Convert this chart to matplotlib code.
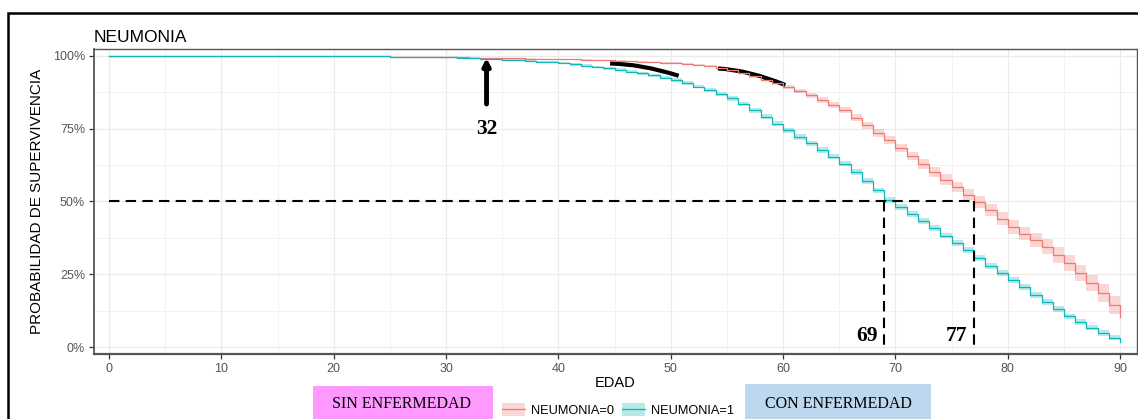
'''
Curvas de supervivencia por edad - NEUMONIA
'''

import numpy as np
import matplotlib
matplotlib.use('Agg')
import matplotlib.pyplot as plt
from matplotlib.patches import Rectangle, Patch, PathPatch
from matplotlib.lines import Line2D
from matplotlib.path import Path

# ═══ Data ═════════════════════════════════════════════════════════════════

edad = np.arange(0, 91)

# NEUMONIA=0 (survival %, one value per year)
surv0 = [
  100.0, 100.0, 100.0, 100.0, 100.0, 100.0, 100.0, 100.0, 100.0, 100.0,
  100.0, 100.0, 100.0, 100.0, 100.0, 100.0, 100.0, 100.0, 100.0, 99.95,
  99.95, 99.9, 99.9, 99.85, 99.85, 99.8, 99.75, 99.7, 99.65, 99.6,
  99.55, 99.5, 99.45, 99.4, 99.3, 99.25, 99.2, 99.1, 99.0, 98.95,
  98.9, 98.8, 98.7, 98.55, 98.45, 98.3, 98.15, 98.0, 97.85, 97.7,
  97.5, 97.2, 96.9, 96.5, 95.9, 95.2, 94.2, 93.1, 91.9, 90.7,
  89.4, 88.0, 86.5, 84.9, 83.2, 81.4, 78.8, 76.2, 73.5, 71.0,
  68.4, 65.6, 62.9, 60.1, 57.5, 55.0, 52.4, 49.8, 47.0, 44.1,
  41.2, 39.0, 36.7, 34.4, 31.6, 28.9, 25.5, 22.0, 18.6, 14.5, 10.3,
]

# NEUMONIA=1
surv1 = [
  100.0, 100.0, 100.0, 100.0, 100.0, 100.0, 100.0, 100.0, 100.0, 100.0,
  100.0, 100.0, 100.0, 100.0, 100.0, 100.0, 100.0, 100.0, 100.0, 99.95,
  99.95, 99.9, 99.9, 99.9, 99.85, 99.8, 99.8, 99.75, 99.7, 99.6,
  99.5, 99.35, 99.2, 99.05, 98.9, 98.75, 98.55, 98.35, 98.1, 97.8,
  97.5, 97.1, 96.7, 96.2, 95.7, 95.2, 94.6, 94.0, 93.3, 92.6,
  91.8, 90.7, 89.5, 88.3, 86.9, 85.4, 83.4, 81.3, 79.1, 76.8,
  74.4, 72.2, 70.0, 67.7, 65.4, 63.0, 60.2, 57.0, 53.8, 50.4,
  48.0, 45.6, 43.2, 40.8, 38.3, 35.8, 33.3, 30.6, 27.8, 25.4,
  23.0, 20.5, 18.0, 15.5, 13.0, 10.5, 8.6, 6.7, 4.8, 3.2, 1.7,
]

# Confidence band half widths (%)
hw0 = [
  0.0, 0.0, 0.0, 0.0, 0.0, 0.0, 0.0, 0.0, 0.0, 0.0,
  0.0, 0.0, 0.0, 0.0, 0.0, 0.0, 0.0, 0.0, 0.0, 0.0,
  0.0, 0.0, 0.0, 0.0, 0.0, 0.0, 0.0, 0.0, 0.0, 0.0,
  0.05, 0.05, 0.05, 0.05, 0.1, 0.1, 0.1, 0.1, 0.1, 0.1,
  0.15, 0.15, 0.15, 0.2, 0.2, 0.2, 0.2, 0.25, 0.25, 0.25,
  0.3, 0.3, 0.35, 0.35, 0.4, 0.4, 0.45, 0.5, 0.55, 0.6,
  0.7, 0.75, 0.8, 0.9, 0.95, 1.0, 1.1, 1.2, 1.3, 1.4,
  1.45, 1.5, 1.6, 1.7, 1.8, 1.85, 1.95, 2.05, 2.1, 2.2,
  2.3, 2.35, 2.45, 2.55, 2.65, 2.7, 2.8, 2.9, 3.0, 3.1, 3.2,
]

hw1 = [
  0.0, 0.0, 0.0, 0.0, 0.0, 0.0, 0.0, 0.0, 0.0, 0.0,
  0.0, 0.0, 0.0, 0.0, 0.0, 0.0, 0.0, 0.0, 0.0, 0.0,
  0.0, 0.0, 0.0, 0.0, 0.0, 0.0, 0.0, 0.0, 0.0, 0.0,
  0.1, 0.1, 0.15, 0.15, 0.2, 0.2, 0.25, 0.3, 0.3, 0.35,
  0.35, 0.4, 0.4, 0.45, 0.45, 0.5, 0.5, 0.55, 0.55, 0.6,
  0.6, 0.65, 0.65, 0.7, 0.7, 0.75, 0.75, 0.8, 0.8, 0.85,
  0.85, 0.9, 0.9, 0.9, 0.95, 0.95, 0.95, 1.0, 1.0, 1.0,
  1.0, 1.0, 1.0, 1.0, 1.0, 1.0, 1.0, 1.0, 1.0, 1.0,
  1.0, 1.0, 1.0, 1.0, 1.0, 1.0, 1.0, 0.95, 0.9, 0.85, 0.8,
]

series = ['NEUMONIA=0', 'NEUMONIA=1']

# Median survival ages and marked age
mediana0 = 77
mediana1 = 69
edad_marca = 33.6
texto_marca = '32'

# Hand drawn strokes (start, control, end)
trazo1 = [(44.6, 97.4), (47.35, 97.3), (50.7, 93.2)]
trazo2 = [(54.2, 95.7), (57.0, 95.15), (60.2, 90.0)]

# ═══ Figure ═══════════════════════════════════════════════════════════════

c0 = '#F07A72'
c1 = '#10B7BA'

fig = plt.figure(figsize=(11.38, 4.19), dpi=100)
ax = fig.add_axes([94/1138, 1 - 354/419, (1137 - 94)/1138, (354 - 49)/419])

# ─── Curves

for s, hw, col in [(surv0, hw0, c0), (surv1, hw1, c1)]:
  s = np.array(s); hw = np.array(hw)
  ax.fill_between(edad, s - hw, np.minimum(s + hw, 100), step='post',
                  color=col, alpha=0.3, lw=0)
  ax.step(edad, s, where='post', color=col, lw=0.9)

# ─── Median lines

ax.plot([0, mediana0], [50, 50], color='black', lw=1.5, ls=(0, (5, 3)))
for m in [mediana1, mediana0]:
  ax.plot([m, m], [50, 0], color='black', lw=1.5, ls=(0, (5, 3)))
  ax.text(m - 0.6, 3.8, str(m), ha='right', va='center', fontsize=15.5,
          fontweight='bold', family='Liberation Serif')

# ─── Arrow and strokes

ax.annotate('', xy=(edad_marca, 99.4), xytext=(edad_marca, 83.5),
            arrowprops=dict(arrowstyle='-|>', color='black', lw=3.5,
                            mutation_scale=10, shrinkA=0, shrinkB=0))
ax.text(edad_marca, 75.0, texto_marca, ha='center', va='center',
        fontsize=15.5, fontweight='bold', family='Liberation Serif')

for tr in [trazo1, trazo2]:
  p = Path(tr, [Path.MOVETO, Path.CURVE3, Path.CURVE3])
  ax.add_patch(PathPatch(p, fc='none', ec='black', lw=3, capstyle='butt'))

# ─── Axes settings

ax.set_xlim(-1.34, 91.5)
ax.set_ylim(-2.4, 102.4)
ax.set_xticks(np.arange(0, 91, 10))
ax.set_xticks(np.arange(5, 91, 10), minor=True)
ax.set_yticks([0, 25, 50, 75, 100])
ax.set_yticks([12.5, 37.5, 62.5, 87.5], minor=True)
ax.set_yticklabels(['0%', '25%', '50%', '75%', '100%'])

ax.grid(which='major', color='#EBEBEB', lw=0.9)
ax.grid(which='minor', color='#F2F2F2', lw=0.7)
ax.set_axisbelow(True)

for sp in ax.spines.values():
  sp.set_color('#555555')
  sp.set_linewidth(1.0)
ax.spines['bottom'].set_linewidth(1.6)
ax.spines['left'].set_linewidth(1.3)

ax.tick_params(which='major', length=3.5, width=0.9, color='#333333',
               labelsize=9, labelcolor='#555555', pad=3)
ax.tick_params(which='minor', length=0)
for lbl in ax.get_xticklabels() + ax.get_yticklabels():
  lbl.set_family('Liberation Sans')

ax.set_xlabel('EDAD', fontsize=10.5, family='Liberation Sans', labelpad=1)
ax.set_ylabel('PROBABILIDAD DE SUPERVIVENCIA', fontsize=11,
              family='Liberation Sans', labelpad=6)
ax.set_title('NEUMONIA', loc='left', fontsize=12.5, family='Liberation Sans',
             pad=5, x=0.0)

# ─── Legend

handles = [(Patch(facecolor=c, alpha=0.3, lw=0), Line2D([], [], color=c, lw=0.9))
           for c in [c0, c1]]
fig.legend(handles, series, loc='center', bbox_to_anchor=(618/1138, 1 - 410/419),
           ncol=2, frameon=False, prop={'family': 'Liberation Sans', 'size': 9.2},
           handlelength=1.8, handleheight=1.2, handletextpad=0.5,
           columnspacing=0.6)

# ─── Boxes

fig.patches.append(Rectangle((313/1138, 0), 180/1138, (419 - 386)/419,
                             transform=fig.transFigure, fc='#FF99FF', ec='none'))
fig.text(402/1138, 1 - 404/419, 'SIN ENFERMEDAD', ha='center', va='center',
         fontsize=11.5, family='Liberation Serif')
fig.patches.append(Rectangle((745/1138, 0), 186/1138, (419 - 384)/419,
                             transform=fig.transFigure, fc='#BDD7EE', ec='none'))
fig.text(838/1138, 1 - 404/419, 'CON ENFERMEDAD', ha='center', va='center',
         fontsize=11.5, family='Liberation Serif')

# Outer frame
fig.patches.append(Rectangle((8/1138, -0.1), 1.2, 1 - 13/419 + 0.1,
                             transform=fig.transFigure, fc='none', ec='black', lw=1.8))

fig.savefig('out.png', dpi=100)
